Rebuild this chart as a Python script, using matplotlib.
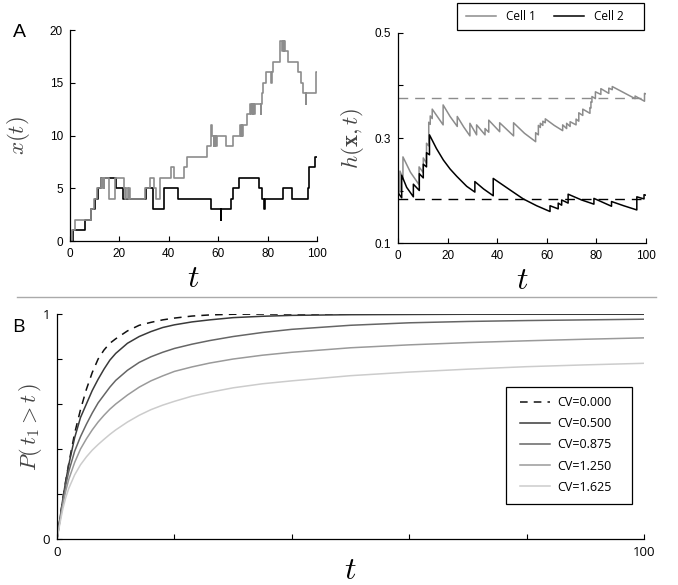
import matplotlib
matplotlib.use("Agg")
import matplotlib.pyplot as plt
from matplotlib.lines import Line2D
from matplotlib.patches import Rectangle

plt.rcParams['mathtext.fontset'] = 'cm'
plt.rcParams['font.family'] = ['Liberation Sans', 'DejaVu Sans']

# ---------------- data ----------------
# Panel A left: x(t) step trajectories (jump time, new value)
cell1_t = [0, 0.8, 1.9, 8.4, 9.8, 11.1, 12.7, 13.0, 13.3, 13.6, 13.9, 15.8, 15.9, 18.1, 18.2,
           21.9, 22.3, 22.8, 23.3, 24.0, 24.5, 30.3, 32.6, 34.2, 34.8, 36.4, 36.5, 41.0, 42.0,
           46.0, 47.3, 55.3, 56.9, 57.0, 57.5, 58.2, 58.4, 58.7, 58.9, 59.2, 59.4, 63.2, 66.2,
           68.8, 69.1, 69.5, 69.8, 70.2, 71.8, 72.9, 73.4, 73.6, 74.0, 74.2, 74.6, 74.8, 77.2,
           77.4, 77.6, 78.0, 79.4, 81.4, 81.6, 82.0, 85.0, 85.1, 86.0, 86.2, 86.5, 86.7, 86.9,
           88.3, 92.4, 93.5, 94.5, 95.4, 95.6, 99.6, 99.7]
cell1_x = [0, 1, 2, 3, 4, 5, 6, 5, 6, 5, 6, 5, 4, 5, 6,
           5, 4, 5, 4, 5, 4, 5, 6, 5, 4, 5, 6, 7, 6,
           7, 8, 9, 10, 11, 10, 9, 10, 9, 10, 9, 10, 9, 10,
           11, 10, 11, 10, 11, 12, 13, 12, 13, 12, 13, 12, 13, 12,
           13, 14, 15, 16, 15, 16, 17, 18, 19, 18, 19, 18, 19, 18,
           17, 16, 15, 14, 13, 14, 15, 16]
cell2_t = [0, 1.2, 5.9, 8.4, 10.0, 11.3, 12.4, 18.8, 21.5, 30.6, 33.6, 33.8, 38.0, 38.2, 43.7,
           56.9, 61.0, 61.3, 65.0, 66.1, 68.6, 76.5, 77.6, 78.5, 78.8, 86.1, 89.7, 96.5, 96.7,
           96.9, 99.2]
cell2_x = [0, 1, 2, 3, 4, 5, 6, 5, 4, 5, 4, 3, 4, 5, 4,
           3, 2, 3, 4, 5, 6, 5, 4, 3, 4, 5, 4, 5, 6,
           7, 8]

# Panel A right: h(x,t) traces (vertices)
h1_t = [0, 0.8, 0.8, 2.0, 2.0, 5.0, 8.5, 8.5, 10.2, 10.2, 11.5, 11.5, 12.4, 12.4, 13.0, 13.0,
        13.8, 13.8, 18.2, 18.2, 21.0, 23.9, 23.9, 26.5, 29.0, 29.0, 31.7, 31.7, 35.1, 35.1,
        36.6, 36.6, 41.0, 41.0, 46.6, 46.6, 51.0, 55.5, 55.5, 56.6, 56.6, 57.4, 57.4, 58.4,
        58.4, 59.4, 59.4, 63.0, 66.4, 66.4, 68.0, 68.0, 69.4, 69.4, 71.8, 71.8, 72.9, 72.9,
        74.5, 74.5, 77.4, 77.4, 77.8, 77.8, 78.2, 78.2, 79.6, 79.6, 81.8, 81.8, 85.0, 85.0,
        86.4, 86.4, 90.0, 95.6, 95.6, 99.4, 99.4, 100]
h1_v = [0.200, 0.197, 0.237, 0.223, 0.264, 0.235, 0.211, 0.245, 0.234, 0.262, 0.252, 0.290,
        0.285, 0.330, 0.326, 0.342, 0.337, 0.355, 0.325, 0.363, 0.341, 0.322, 0.341, 0.321,
        0.304, 0.328, 0.306, 0.325, 0.306, 0.318, 0.311, 0.334, 0.312, 0.329, 0.304, 0.329,
        0.309, 0.293, 0.310, 0.306, 0.324, 0.320, 0.328, 0.324, 0.332, 0.329, 0.3365, 0.324,
        0.314, 0.325, 0.318, 0.328, 0.322, 0.331, 0.325, 0.336, 0.332, 0.348, 0.343, 0.355,
        0.347, 0.358, 0.357, 0.369, 0.368, 0.379, 0.375, 0.388, 0.383, 0.394, 0.385, 0.395,
        0.392, 0.398, 0.389, 0.375, 0.380, 0.370, 0.385, 0.384]
h2_t = [0, 1.5, 1.5, 3.5, 6.2, 6.2, 8.6, 8.6, 10.2, 10.2, 11.5, 11.5, 12.7, 12.7, 15.5, 18.3,
        21.0, 23.7, 27.7, 31.0, 31.0, 34.5, 38.4, 38.4, 45.2, 50.5, 55.9, 61.3, 61.3, 64.6,
        64.6, 66.0, 66.0, 68.6, 68.6, 74.0, 79.0, 79.0, 86.1, 86.1, 91.0, 96.3, 96.3, 99.2,
        99.2, 100]
h2_v = [0.196, 0.186, 0.229, 0.206, 0.188, 0.212, 0.200, 0.232, 0.224, 0.250, 0.245, 0.272,
        0.268, 0.306, 0.280, 0.258, 0.241, 0.227, 0.208, 0.197, 0.217, 0.203, 0.190, 0.223,
        0.201, 0.184, 0.171, 0.160, 0.171, 0.165, 0.176, 0.172, 0.182, 0.176, 0.193, 0.182,
        0.174, 0.185, 0.170, 0.179, 0.171, 0.163, 0.188, 0.184, 0.192, 0.191]
h1_ref = 0.376
h2_ref = 0.183

# Panel B: P(t1 > t) for several CV
pt = [0, 0.5, 1, 1.5, 2, 3, 4, 5, 6, 7, 8, 9, 10, 12, 14, 16, 18, 20, 23, 26, 30, 35, 40,
      50, 60, 70, 80, 90, 100]
cv_labels = ['CV=0.000', 'CV=0.500', 'CV=0.875', 'CV=1.250', 'CV=1.625']
p_cv0 = [0, 0.09, 0.18, 0.26, 0.335, 0.47, 0.575, 0.665, 0.74, 0.80, 0.84, 0.87, 0.89, 0.925,
         0.95, 0.963, 0.974, 0.982, 0.991, 0.996, 0.999, 1.0, 1.0, 1.0, 1.0, 1.0, 1.0, 1.0, 1.0]
p_cv1 = [0, 0.09, 0.18, 0.26, 0.33, 0.45, 0.54, 0.60, 0.66, 0.71, 0.755, 0.795, 0.825, 0.87,
         0.90, 0.922, 0.94, 0.952, 0.965, 0.974, 0.984, 0.99, 0.994, 0.997, 0.998, 0.999,
         0.999, 0.999, 0.999]
p_cv2 = [0, 0.085, 0.17, 0.24, 0.30, 0.39, 0.455, 0.51, 0.56, 0.605, 0.64, 0.675, 0.705, 0.75,
         0.785, 0.81, 0.83, 0.847, 0.866, 0.882, 0.90, 0.918, 0.932, 0.95, 0.961, 0.967,
         0.971, 0.974, 0.977]
p_cv3 = [0, 0.08, 0.155, 0.215, 0.265, 0.34, 0.40, 0.445, 0.485, 0.52, 0.55, 0.577, 0.60,
         0.64, 0.675, 0.703, 0.725, 0.745, 0.765, 0.782, 0.80, 0.817, 0.83, 0.85, 0.863,
         0.873, 0.881, 0.888, 0.894]
p_cv4 = [0, 0.07, 0.135, 0.185, 0.225, 0.285, 0.33, 0.365, 0.395, 0.42, 0.443, 0.465, 0.485,
         0.52, 0.55, 0.575, 0.595, 0.612, 0.635, 0.652, 0.672, 0.69, 0.703, 0.726, 0.742,
         0.755, 0.766, 0.774, 0.781]
p_series = [p_cv0, p_cv1, p_cv2, p_cv3, p_cv4]
cv_colors = ['#111111', '#3a3a3a', '#666666', '#9a9a9a', '#cccccc']
cv_styles = [(0, (5, 4)), '-', '-', '-', '-']

GRAY = '#8c8c8c'
LABC = '#444444'
SANS2 = ['Open Sans', 'DejaVu Sans']
W, H = 678.0, 585.0

fig = plt.figure(figsize=(6.78, 5.85), dpi=100)

def style(ax, tickfont, tsize):
    for s in ['top', 'right']:
        ax.spines[s].set_visible(False)
    for s in ['left', 'bottom']:
        ax.spines[s].set_linewidth(0.9)
    ax.tick_params(direction='in', length=3.5, width=0.8, pad=5, labelsize=tsize)
    for lab in ax.get_xticklabels() + ax.get_yticklabels():
        lab.set_fontfamily(tickfont)

# ---- Panel A left ----
ax1 = fig.add_axes([0.1032, 0.588, 0.3643, 0.3607])
ax1.step(cell2_t + [100], cell2_x + [cell2_x[-1]], where='post', color='black', lw=1.2)
ax1.step(cell1_t + [100], cell1_x + [cell1_x[-1]], where='post', color=GRAY, lw=1.2)
ax1.set_xlim(0, 100)
ax1.set_ylim(0, 20)
ax1.set_xticks([0, 20, 40, 60, 80, 100])
ax1.set_yticks([0, 5, 10, 15, 20])
style(ax1, ['Liberation Sans'], 8.5)
ax1.set_ylabel(r'$x(t)$', fontsize=16.5, color=LABC)
ax1.yaxis.set_label_coords(-0.155, 0.5)
ax1.set_xlabel(r'$t$', fontsize=23)
ax1.xaxis.set_label_coords(0.5, -0.11)

# ---- Panel A right ----
ax2 = fig.add_axes([0.587, 0.5846, 0.3658, 0.359])
ax2.axhline(h1_ref, color=GRAY, lw=1.0, dashes=(7, 5))
ax2.axhline(h2_ref, color='black', lw=1.0, dashes=(7, 5))
ax2.plot(h1_t, h1_v, color=GRAY, lw=1.1)
ax2.plot(h2_t, h2_v, color='black', lw=1.1)
ax2.set_xlim(0, 100)
ax2.set_ylim(0.1, 0.5)
ax2.set_xticks([0, 20, 40, 60, 80, 100])
ax2.set_yticks([0.1, 0.2, 0.3, 0.4, 0.5])
ax2.set_yticklabels(['0.1', '', '0.3', '', '0.5'])
style(ax2, ['Liberation Sans'], 8.5)
ax2.set_ylabel(r'$h(\mathbf{x},t)$', fontsize=16.5, color=LABC)
ax2.yaxis.set_label_coords(-0.128, 0.5)
ax2.set_xlabel(r'$t$', fontsize=23)
ax2.xaxis.set_label_coords(0.5, -0.11)

# top legend: frame drawn as a rectangle, entries placed inside
fig.add_artist(Rectangle((457 / W, 1 - 30 / H), 187 / W, 27 / H, transform=fig.transFigure,
                         fill=False, edgecolor='black', lw=0.9))
handles = [Line2D([], [], color=GRAY, lw=1.1), Line2D([], [], color='black', lw=1.1)]
leg = fig.legend(handles, ['Cell 1', 'Cell 2'], ncol=2, loc='center left',
                 bbox_to_anchor=(466 / W, 1 - 16.5 / H), borderaxespad=0, borderpad=0,
                 prop={'family': SANS2, 'size': 8.5}, frameon=False,
                 handlelength=2.55, handletextpad=0.85, columnspacing=1.5)

# ---- separator ----
fig.add_artist(Line2D([17 / W, 656 / W], [1 - 297 / H, 1 - 297 / H],
                      color='#aaaaaa', lw=1.0))

# ---- Panel B ----
ax3 = fig.add_axes([0.0841, 0.0786, 0.8658, 0.3846])
for vals, lab, c, ls in zip(p_series, cv_labels, cv_colors, cv_styles):
    ax3.plot(pt, vals, color=c, ls=ls, lw=1.1, label=lab)
ax3.set_xlim(0, 100)
ax3.set_ylim(0, 1)
ax3.set_xticks([0, 20, 40, 60, 80, 100])
ax3.set_xticklabels(['0', '', '', '', '', '100'])
ax3.set_yticks([0, 0.2, 0.4, 0.6, 0.8, 1.0])
ax3.set_yticklabels(['0', '', '', '', '', '1'])
style(ax3, SANS2, 9.5)
ax3.set_ylabel(r'$P(\,t_1 > t\,)$', fontsize=16, color=LABC)
ax3.yaxis.set_label_coords(-0.022, 0.5)
ax3.set_xlabel(r'$t$', fontsize=23)
ax3.xaxis.set_label_coords(0.5, -0.075)
fig.add_artist(Rectangle((506 / W, 1 - 504 / H), 126 / W, 117 / H, transform=fig.transFigure,
                         fill=False, edgecolor='black', lw=0.9))
leg3 = ax3.legend(loc='center left', bbox_to_anchor=(520 / W, 1 - 445 / H),
                  bbox_transform=fig.transFigure, borderaxespad=0, borderpad=0,
                  prop={'family': SANS2, 'size': 9}, frameon=False,
                  handlelength=2.4, handletextpad=0.6, labelspacing=0.65)

# panel letters
fig.text(13 / W, 1 - 37 / H, 'A', fontsize=14, family=['Liberation Sans'])
fig.text(12 / W, 1 - 332 / H, 'B', fontsize=14, family=SANS2)

fig.savefig('out.png', dpi=100)
